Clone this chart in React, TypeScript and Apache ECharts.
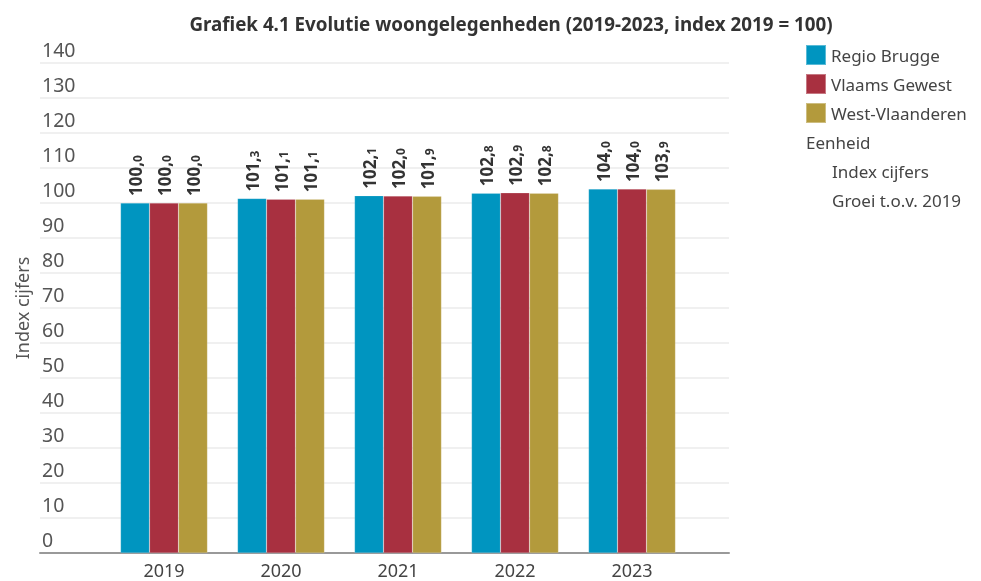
import React, { useEffect, useRef } from "react";
import * as echarts from "echarts";

const years = ["2019", "2020", "2021", "2022", "2023"];
const regioBrugge = [100.0, 101.3, 102.1, 102.8, 104.0];
const vlaamsGewest = [100.0, 101.1, 102.0, 102.9, 104.0];
const westVlaanderen = [100.0, 101.1, 101.9, 102.8, 103.9];
const seriesNames = ["Regio Brugge", "Vlaams Gewest", "West-Vlaanderen"];
const colors = ["#0095C0", "#A83040", "#B39A3C"];
const titleText = "Grafiek 4.1 Evolutie woongelegenheden (2019-2023, index 2019 = 100)";
const unitTitle = "Eenheid";
const unitOptions = ["Index cijfers", "Groei t.o.v. 2019"];
const yMin = 0;
const yMax = 140;
const yInterval = 10;

const FONT = "'Noto Sans', 'Open Sans', sans-serif";

export default function App() {
  const ref = useRef<HTMLDivElement>(null);
  useEffect(() => {
    if (!ref.current) return;
    const chart = echarts.init(ref.current, null, { renderer: "svg" });
    const allData = [regioBrugge, vlaamsGewest, westVlaanderen];
    const label = {
      show: true,
      position: "top",
      rotate: 90,
      align: "left",
      verticalAlign: "middle",
      distance: 7,
      formatter: (p: any) => {
        const s = (p.value as number).toFixed(1).split(".");
        return `{a|${s[0]},}{b|${s[1]}}`;
      },
      rich: {
        a: { fontSize: 17, fontWeight: "bold", color: "#333", fontFamily: FONT, lineHeight: 17, verticalAlign: "bottom" },
        b: { fontSize: 12, fontWeight: "bold", color: "#333", fontFamily: FONT, lineHeight: 17, verticalAlign: "bottom" },
      },
    };
    chart.setOption({
      animation: false,
      color: colors,
      title: {
        text: titleText,
        left: 506,
        textAlign: "center",
        top: 9,
        textStyle: { fontSize: 18.8, fontWeight: "bold", color: "#333", fontFamily: FONT },
      },
      legend: {
        orient: "vertical",
        left: 805,
        top: 44,
        padding: 0,
        icon: "rect",
        itemWidth: 20,
        itemHeight: 20,
        itemGap: 7,
        data: seriesNames,
        textStyle: { fontSize: 17, lineHeight: 20, color: "#444", fontFamily: FONT },
        selectedMode: false,
      },
      graphic: [
        { type: "text", left: 806, top: 134, style: { text: unitTitle, fontSize: 17, fill: "#444", fontFamily: FONT } },
        { type: "text", left: 832, top: 163, style: { text: unitOptions[0], fontSize: 17, fill: "#444", fontFamily: FONT } },
        { type: "text", left: 832, top: 192, style: { text: unitOptions[1], fontSize: 17, fill: "#444", fontFamily: FONT } },
      ],
      grid: [
        { left: 40, right: 981 - 729, top: 63, bottom: 28 },
        { left: 105.5, right: 981 - 690.5, top: 63, bottom: 28 },
      ],
      xAxis: [
        {
          gridIndex: 0,
          type: "value",
          min: 0,
          max: 1,
          axisLine: { show: true, lineStyle: { color: "#999", width: 2 } },
          axisTick: { show: false },
          axisLabel: { show: false },
          splitLine: { show: false },
        },
        {
          gridIndex: 1,
          type: "category",
          data: years,
          axisLine: { show: false },
          axisTick: { show: false },
          axisLabel: { fontSize: 18, lineHeight: 16, color: "#444", fontFamily: FONT, margin: 9 },
        },
      ],
      yAxis: [
        {
          gridIndex: 0,
          type: "value",
          min: yMin,
          max: yMax,
          interval: yInterval,
          name: "Index cijfers",
          nameLocation: "middle",
          nameGap: 8,
          nameRotate: 90,
          nameTextStyle: { fontSize: 18, color: "#555", fontFamily: FONT },
          axisLine: { show: false },
          axisTick: { show: false },
          axisLabel: {
            inside: true,
            margin: 2,
            verticalAlign: "bottom",
            padding: [0, 0, 4, 0],
            fontSize: 19.5,
            color: "#555",
            fontFamily: FONT,
          },
          splitLine: { lineStyle: { color: "#ebebeb", width: 1.5 } },
        },
        {
          gridIndex: 1,
          type: "value",
          min: yMin,
          max: yMax,
          interval: yInterval,
          show: false,
          splitLine: { show: false },
        },
      ],
      series: seriesNames.map((name, i) => ({
        name,
        type: "bar",
        xAxisIndex: 1,
        yAxisIndex: 1,
        data: allData[i],
        barWidth: 29,
        barGap: "0%",
        itemStyle: { color: colors[i], borderColor: "rgba(255,255,255,0.35)", borderWidth: 0.5 },
        label,
        z: 3,
      })),
    });
    return () => chart.dispose();
  }, []);
  return (
    <div
      ref={ref}
      style={{ position: "fixed", left: 0, top: 0, width: 981, height: 581 }}
    />
  );
}
